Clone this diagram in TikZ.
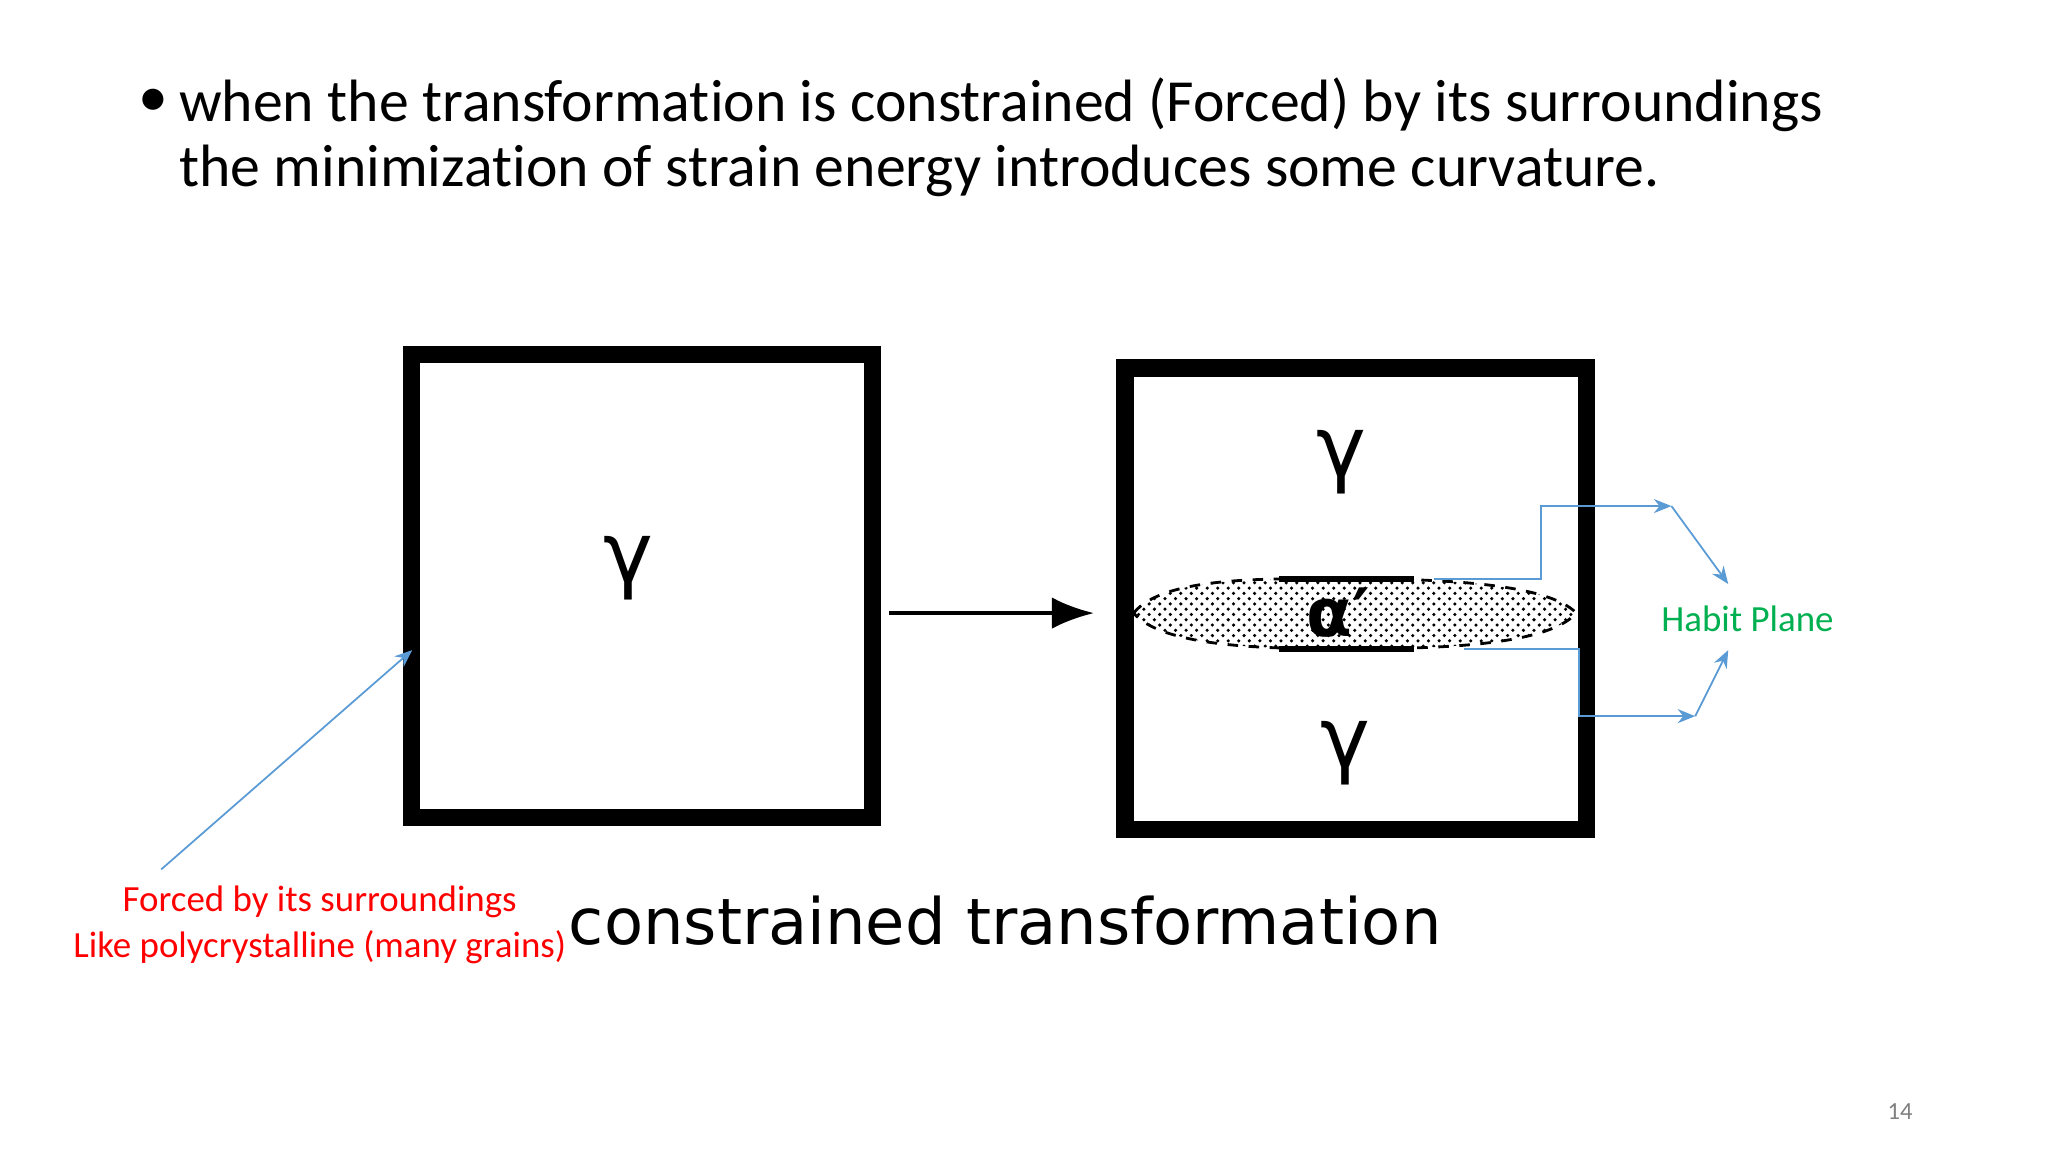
\documentclass[tikz,border=0pt]{standalone}
\usepackage{fontspec}
\setmainfont[Ligatures={NoCommon}]{Carlito}
\newfontfamily\pixfont{DejaVu Sans}
\usetikzlibrary{patterns,arrows.meta}
\definecolor{lblue}{RGB}{91,155,213}
\definecolor{hgreen}{RGB}{0,176,80}
\tikzset{box/.style={draw=black,line width=4.9pt},
  bl/.style={draw=lblue,line width=0.5pt},
  blarrow/.style={bl,-{Stealth[length=5pt,width=4pt]}},
  gam/.style={font=\pixfont\fontsize{24}{24}\selectfont}}
\begin{document}
\begin{tikzpicture}[x=0.013213cm,y=-0.013213cm]
\useasboundingbox (0,0) rectangle (1550,872);
\fill[white] (0,0) rectangle (1550,872);
\node[anchor=west,font=\fontsize{17}{18.7}\selectfont,inner sep=0] (b) at (104,78) {•};
\node[anchor=north west,align=left,inner sep=0,font=\fontsize{17}{18.7}\selectfont] (t) at (135,58)
 {when the transformation is constrained (Forced) by its surroundings\\the minimization of strain energy introduces some curvature.};
\draw[box] (311.5,268.5) rectangle (660.5,618.5);
\node[gam] (g1) at (476,430) {γ};
\coordinate (a1) at (673,464);
\coordinate (a2) at (828,464);
\draw[line width=1.2pt,-{Latex[length=12pt,width=9pt]}] (a1) -- (a2);
\draw[box] (851.5,278.5) rectangle (1200.5,627.5);
\node[gam] (g2) at (1015,350) {γ};
\node[gam] (g3) at (1018,570) {γ};
\path[pattern=crosshatch dots,draw=black,line width=0.8pt,dashed]
 (858,464) .. controls (880,436) and (960,438) .. (1015,438) .. controls (1080,438) and (1170,440) .. (1193,464)
 .. controls (1170,490) and (1080,491) .. (1015,491) .. controls (960,491) and (880,490) .. (858,464) -- cycle;
\draw[line width=1.6pt] (968,438) -- (1070,438);
\draw[line width=1.6pt] (968,491) -- (1070,491);
\node[font=\pixfont\bfseries\fontsize{19}{19}\selectfont,inner sep=0.5pt] (al) at (1013,464) {α′};
\coordinate (p1) at (1085,438);
\coordinate (p2) at (1265,383);
\coordinate (p3) at (1308,442);
\draw[blarrow] (p1) -- (1166,438) -- (1166,383) -- (p2);
\draw[blarrow] (p2) -- (p3);
\coordinate (q1) at (1108,491);
\coordinate (q2) at (1283,542);
\coordinate (q3) at (1308,492);
\draw[blarrow] (q1) -- (1195,491) -- (1195,542) -- (q2);
\draw[blarrow] (q2) -- (q3);
\node[text=hgreen,font=\fontsize{10.5}{12}\selectfont,anchor=west] (hp) at (1248,468) {Habit Plane};
\node[text=red,align=center,font=\fontsize{10.5}{13.2}\selectfont] (red) at (242,700) {Forced by its surroundings\\Like polycrystalline (many grains)};
\coordinate (r1) at (122,658);
\coordinate (r2) at (312,492);
\draw[blarrow] (r1) -- (r2);
\node[font=\pixfont\fontsize{18.2}{20}\selectfont,anchor=west,inner sep=0] (ct) at (430,697) {constrained transformation};
\node[text=gray,font=\fontsize{7}{8}\selectfont] (pg) at (1438,841) {14};
\end{tikzpicture}
\end{document}
